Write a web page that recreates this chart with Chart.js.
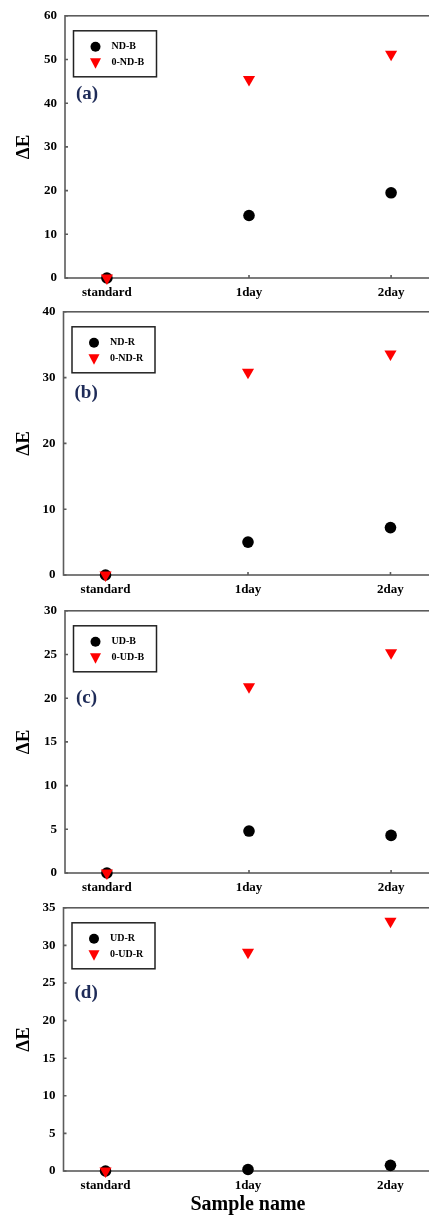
<!DOCTYPE html>
<html>
<head>
<meta charset="utf-8">
<title>Delta E by sample</title>
<script src="https://cdn.jsdelivr.net/npm/chart.js@4.4.1/dist/chart.umd.min.js"></script>
<style>
    html, body { margin: 0; padding: 0; background: #fff; }
    body { width: 429px; height: 1217px; overflow: hidden; position: relative; }
    canvas { position: absolute; left: 0; }
</style>
</head>
<body>
<canvas id="panelA" width="440" height="302" style="top:0px"></canvas>
<canvas id="panelB" width="440" height="303" style="top:296px"></canvas>
<canvas id="panelC" width="440" height="302" style="top:595px"></canvas>
<canvas id="panelD" width="440" height="325" style="top:892px"></canvas>
<script>
// Sample names on the x axis
const categories = ['standard', '1day', '2day'];

// (a) ND-B
const ndB = [0, 14.3, 19.5];
const oNdB = [0, 45.4, 51.2];
// (b) ND-R
const ndR = [0, 5.0, 7.2];
const oNdR = [0, 30.8, 33.6];
// (c) UD-B
const udB = [0, 4.8, 4.3];
const oUdB = [0, 21.3, 25.2];
// (d) UD-R
const udR = [0, 0.2, 0.75];
const oUdR = [0, 29.1, 33.2];

const yMaxes = [60, 40, 30, 35];
const yStepSizes = [10, 10, 5, 5];
const panelTags = ['(a)', '(b)', '(c)', '(d)'];
const seriesNames = [
    ['ND-B', '0-ND-B'],
    ['ND-R', '0-ND-R'],
    ['UD-B', '0-UD-B'],
    ['UD-R', '0-UD-R']
];
const seriesValues = [[ndB, oNdB], [ndR, oNdR], [udB, oUdB], [udR, oUdR]];

Chart.defaults.font.family = "'Liberation Serif', 'Times New Roman', serif";
Chart.defaults.color = '#000';

// Frame, inward tick marks, legend box and panel tag
const framePlugin = {
    id: 'framePlugin',
    beforeDatasetsDraw(chart) {
        const { ctx, chartArea: a, scales } = chart;
        ctx.save();
        ctx.strokeStyle = '#5c5c5c';
        ctx.lineWidth = 1.6;
        ctx.strokeRect(a.left, a.top, a.right - a.left, a.bottom - a.top);
        ctx.beginPath();
        scales.x.ticks.forEach(t => {
            const px = scales.x.getPixelForValue(t.value);
            ctx.moveTo(px, a.bottom);
            ctx.lineTo(px, a.bottom - 3);
        });
        scales.y.ticks.forEach(t => {
            const py = scales.y.getPixelForValue(t.value);
            ctx.moveTo(a.left, py);
            ctx.lineTo(a.left + 3, py);
        });
        ctx.stroke();
        ctx.restore();
    },
    afterDatasetsDraw(chart, args, opts) {
        const { ctx, chartArea: a } = chart;
        const bx = a.left + 8.5, by = a.top + 15;
        ctx.save();
        ctx.strokeStyle = '#222';
        ctx.lineWidth = 1.5;
        ctx.strokeRect(bx, by, 83, 46);

        chart.data.datasets.forEach((ds, i) => {
            const mx = bx + 22, my = by + 16 + i * 16;
            ctx.fillStyle = ds.backgroundColor;
            ctx.beginPath();
            if (ds.pointStyle === 'circle') {
                ctx.arc(mx, my, 5, 0, Math.PI * 2);
            } else {
                ctx.moveTo(mx - 5.5, my - 4.5);
                ctx.lineTo(mx + 5.5, my - 4.5);
                ctx.lineTo(mx, my + 6);
                ctx.closePath();
            }
            ctx.fill();
            ctx.fillStyle = '#000';
            ctx.font = "bold 10px 'Liberation Serif', serif";
            ctx.textBaseline = 'middle';
            ctx.textAlign = 'left';
            ctx.fillText(ds.label, bx + 38, my);
        });

        ctx.fillStyle = '#1e2b58';
        ctx.font = "bold 19px 'Liberation Serif', serif";
        ctx.textBaseline = 'middle';
        ctx.fillText(opts.tag, a.left + 11, a.top + opts.tagY);
        ctx.restore();
    }
};

const panels = [
    { id: 'panelA', left: 65, tagY: 78, lastAxis: false },
    { id: 'panelB', left: 63.5, tagY: 81, lastAxis: false },
    { id: 'panelC', left: 65, tagY: 87, lastAxis: false },
    { id: 'panelD', left: 63.5, tagY: 85, lastAxis: true }
];

panels.forEach((p, k) => {
    const canvas = document.getElementById(p.id);
    const xAxisHeight = p.lastAxis ? 46 : 24;

    new Chart(canvas, {
        type: 'scatter',
        data: {
            datasets: [{
                label: seriesNames[k][0],
                data: seriesValues[k][0].map((v, i) => ({ x: i, y: v })),
                pointStyle: 'circle',
                pointRadius: 5.8,
                borderWidth: 0,
                backgroundColor: '#000',
                clip: false,
                order: 1
            }, {
                label: seriesNames[k][1],
                data: seriesValues[k][1].map((v, i) => ({ x: i, y: v })),
                pointStyle: 'triangle',
                rotation: 180,
                pointRadius: 7,
                borderWidth: 0,
                backgroundColor: '#ff0000',
                clip: false,
                order: 0
            }]
        },
        options: {
            responsive: false,
            animation: false,
            layout: { padding: { top: 13, left: 0, right: 440 - p.left - 369, bottom: 0 } },
            plugins: {
                legend: { display: false },
                tooltip: { enabled: false },
                framePlugin: { tag: panelTags[k], tagY: p.tagY }
            },
            scales: {
                x: {
                    type: 'linear',
                    min: -0.295,
                    max: 2.295,
                    grid: { display: false, drawTicks: false },
                    border: { display: false },
                    afterBuildTicks: scale => {
                        scale.ticks = categories.map((c, i) => ({ value: i }));
                    },
                    afterFit: scale => { scale.height = xAxisHeight; },
                    ticks: {
                        padding: 7,
                        maxRotation: 0,
                        font: { size: 13, weight: 'bold' },
                        callback: value => categories[value]
                    },
                    title: {
                        display: p.lastAxis,
                        text: 'Sample name',
                        font: { size: 20, weight: 'bold' },
                        padding: { top: 0, bottom: 0 }
                    }
                },
                y: {
                    min: 0,
                    max: yMaxes[k],
                    grid: { display: false, drawTicks: false },
                    border: { display: false },
                    afterFit: scale => { scale.width = p.left; },
                    ticks: {
                        stepSize: yStepSizes[k],
                        padding: 8,
                        font: { size: 13, weight: 'bold' }
                    },
                    title: {
                        display: true,
                        text: 'ΔE',
                        font: { size: 19, weight: 'bold' },
                        padding: { top: 13, bottom: 0 }
                    }
                }
            }
        },
        plugins: [framePlugin]
    });
});
</script>
</body>
</html>
